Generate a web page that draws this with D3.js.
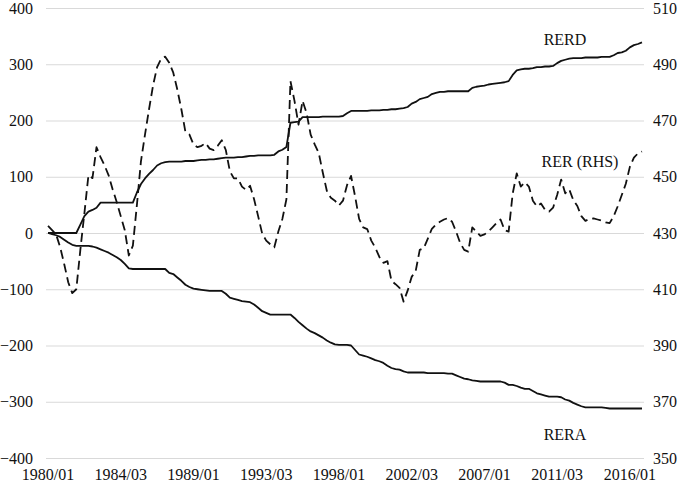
<!DOCTYPE html>
<html>
<head>
<meta charset="utf-8">
<script src="https://cdn.jsdelivr.net/npm/d3@7"></script>
<style>
  html, body { margin: 0; padding: 0; background: #fff; }
  svg { display: block; }
  text { font-family: "Liberation Serif", "Times New Roman", serif; }
</style>
</head>
<body>
<svg id="chart" width="685" height="486"></svg>
<script>
// Quarterly categories 1980/01 .. 2016/04 (year/quarter)
const categories = [];
for (let y = 1980; y <= 2016; y++) for (let q = 1; q <= 4; q++) categories.push(y + "/0" + q);

const xTickLabels = ["1980/01","1984/03","1989/01","1993/03","1998/01","2002/03","2007/01","2011/03","2016/01"];
const leftTicks = [-400,-300,-200,-100,0,100,200,300,400];
const rightTicks = [350,370,390,410,430,450,470,490,510];

// RERD (left axis)
const rerd = [
  0,0,0,0,0,0,0,0,
  15,30,38,41,45,54,
  54,54,54,54,54,54,54,54,
  72,87,97,105,112,120,124,126,
  127,127,127,127,128,128,128,129,130,130,131,131,132,133,134,
  134,134,135,135,136,
  137,137,138,138,138,138,139,
  145,148,153,196,197,198,206,
  206,206,206,206,207,207,207,207,207,208,213,
  217,217,217,217,217,218,218,218,219,
  219,220,220,221,222,224,230,233,238,240,242,247,249,251,251,
  252,252,252,252,252,252,
  258,260,261,262,264,265,266,267,268,
  270,281,289,291,292,292,293,295,295,296,296,297,
  302,306,308,310,311,311,311,312,312,312,312,313,313,313,
  316,320,321,324,330,334,336,339
];

// RERA (left axis)
const rera = [
  0,-2,-4,-7,-12,-17,-21,-23,-23,-23,-23,
  -24,-26,-29,-32,-35,-39,-43,-48,-55,-63,
  -64,-64,-64,-64,-64,-64,-64,-64,-64,
  -71,-73,-79,-85,-92,-96,-99,-100,-101,-102,-103,-103,-103,-103,
  -108,-115,-117,-119,-121,-122,-123,-127,-133,-139,-142,-145,
  -145,-145,-145,-145,-145,
  -151,-158,-164,-170,-175,-178,-182,-186,-191,-195,-198,-199,-199,-199,-200,
  -208,-216,-218,-220,-223,-226,-228,-231,-236,-240,-242,-243,-246,-248,
  -248,-248,-248,-248,-249,-249,-249,-249,-249,-250,-250,
  -253,-256,-259,-260,-262,-263,-264,-264,-264,-264,-264,-264,
  -266,-270,-270,-272,-275,-277,-277,-281,-285,-287,-289,-291,-291,-291,-292,
  -296,-298,-302,-305,-308,-310,-310,-310,-310,-310,-311,
  -312,-312,-312,-312,-312,-312,-312,-312,-312
];

// RER (right axis, RHS)
const rer = [
  432.5,431,429.5,425,419,412.5,408.6,410,424,437,
  450.5,449.5,460.5,457,454,450.5,445.5,441,436,431,
  422,425.5,440,455.5,465,474,482.5,489,492,492.7,
  490.5,487,481,474,466,465,461.5,460.5,461,462,
  460,459.5,461,463,459.5,452,449.4,449.4,446.5,445.3,
  446.8,442,436,429.8,427.3,426,424.9,430.5,435,442,
  484,477,468.5,477,472.6,465,461.5,458.5,451.5,445,
  442.5,441.5,439.8,441.5,447,450.3,443,435,432,431.4,
  427.3,424.8,421.5,419.4,420,413,411.8,410.5,405.6,409.5,
  414.4,416.5,424,424.6,428,431.5,433,434,434.8,435.3,
  434,430.5,426.5,424,423.4,432,430.5,429,429.5,430.5,
  432,433.5,434.8,431,430.5,444,451.2,446.5,448,446.5,
  441.5,439.4,440.5,438.3,437.6,439,443.5,449,444.1,445.5,
  441.7,439.6,436,434.3,435,435.2,434.8,434.4,433.8,433.5,
  436,439.5,443.5,447.5,453.5,456.8,458.3,459
];

const svg = d3.select("#chart");
const mLeft = 46, mRight = 644, mTop = 8, mBottom = 458;
const FONT = "Liberation Serif, Times New Roman, serif";
const FS = 16;

const x = d3.scaleBand().domain(categories).range([mLeft, mRight]).padding(0);
const xc = c => x(c) + x.bandwidth() / 2;
const yL = d3.scaleLinear().domain([-400, 400]).range([mBottom, mTop]);
const yR = d3.scaleLinear().domain([350, 510]).range([mBottom, mTop]);

// Gridlines
const grid = svg.append("g").attr("transform", `translate(${mLeft},0)`)
  .call(d3.axisLeft(yL).tickValues(leftTicks).tickSize(-(mRight - mLeft)).tickFormat(""));
grid.select(".domain").remove();
grid.selectAll("line").attr("stroke", "#d9d9d9").attr("stroke-width", 1);

// Left axis labels
const la = svg.append("g").attr("transform", `translate(${mLeft},0)`)
  .call(d3.axisLeft(yL).tickValues(leftTicks).tickSize(0).tickPadding(13));
la.select(".domain").remove();
la.attr("font-family", FONT);
la.selectAll("text").attr("font-size", FS).attr("fill", "#111").attr("font-family", FONT);

// Right axis labels
const ra = svg.append("g").attr("transform", `translate(${mRight},0)`)
  .call(d3.axisRight(yR).tickValues(rightTicks).tickSize(0).tickPadding(9));
ra.select(".domain").remove();
ra.attr("font-family", FONT);
ra.selectAll("text").attr("font-size", FS).attr("fill", "#111").attr("font-family", FONT);

// Bottom axis labels
const ba = svg.append("g").attr("transform", `translate(0,${mBottom})`)
  .call(d3.axisBottom(x).tickValues(xTickLabels).tickSize(0).tickPadding(11));
ba.select(".domain").remove();
ba.attr("font-family", FONT);
ba.selectAll("text").attr("font-size", FS).attr("fill", "#111").attr("font-family", FONT);

// Lines
const lineL = d3.line().x((d, i) => xc(categories[i])).y(d => yL(d));
const lineR = d3.line().x((d, i) => xc(categories[i])).y(d => yR(d));

svg.append("path").datum(rer).attr("d", lineR)
  .attr("fill", "none").attr("stroke", "#111").attr("stroke-width", 1.8)
  .attr("stroke-dasharray", "9,5").attr("stroke-linejoin", "round");
svg.append("path").datum(rerd).attr("d", lineL)
  .attr("fill", "none").attr("stroke", "#111").attr("stroke-width", 1.8)
  .attr("stroke-linejoin", "round");
svg.append("path").datum(rera).attr("d", lineL)
  .attr("fill", "none").attr("stroke", "#111").attr("stroke-width", 1.8)
  .attr("stroke-linejoin", "round");

// Series labels
const labels = [
  {t: "RERD", x: 565, y: 45},
  {t: "RER (RHS)", x: 580, y: 167},
  {t: "RERA", x: 565, y: 440}
];
svg.selectAll("text.lbl").data(labels).enter().append("text")
  .attr("class", "lbl").attr("x", d => d.x).attr("y", d => d.y)
  .attr("text-anchor", "middle").attr("font-size", FS).attr("fill", "#111")
  .attr("font-family", FONT)
  .text(d => d.t);
</script>
</body>
</html>
